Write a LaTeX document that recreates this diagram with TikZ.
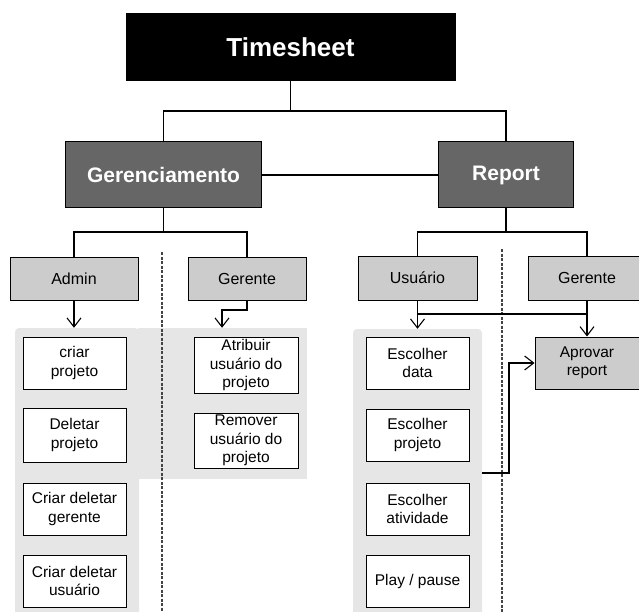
\documentclass[tikz,border=0pt]{standalone}
\usepackage{fontspec}
\setmainfont{Liberation Sans}
\usetikzlibrary{arrows.meta}
\definecolor{headgray}{HTML}{666666}
\definecolor{rolegray}{HTML}{CCCCCC}
\definecolor{panelgray}{HTML}{E6E6E6}
\definecolor{dividergray}{HTML}{444444}
\tikzset{
  basebox/.style={draw=black, line width=1pt, inner sep=0pt, align=center},
  rootbox/.style={basebox, fill=black, text=white, font=\bfseries\fontsize{26}{30}\selectfont},
  headbox/.style={basebox, fill=headgray, text=white, font=\bfseries\fontsize{21}{25}\selectfont},
  rolebox/.style={basebox, fill=rolegray, font=\fontsize{16}{18.5}\selectfont},
  taskbox/.style={basebox, fill=white, font=\fontsize{15.5}{18.5}\selectfont},
  panel/.style={fill=panelgray, draw=none, rounded corners=4pt, inner sep=0pt},
  link/.style={draw=black, line width=1.1pt},
  arrowlink/.style={link, -{Straight Barb[length=9pt,width=14pt,line width=1.1pt]}},
  divider/.style={draw=dividergray, line width=1.2pt, dash pattern=on 3pt off 1.5pt}
}
\begin{document}
\begin{tikzpicture}[x=1pt, y=-1pt]
\useasboundingbox (0,0) rectangle (639,612);
\clip (0,0) rectangle (639,612);

% grey backdrop panels behind the task lists
\node[panel, minimum width=124, minimum height=300] (pA) at (77,478) {};
\node[panel, minimum width=169, minimum height=151, rounded corners=0pt] (pB) at (222.5,403.5) {};
\node[panel, minimum width=129, minimum height=300] (pU) at (417.5,479) {};

% dashed dividers between the role columns
\coordinate (divL) at (162,252);
\coordinate (divR) at (502,249);
\draw[divider] (divL) -- (divL |- 0,620);
\draw[divider] (divR) -- (divR |- 0,620);

% top levels
\node[rootbox, minimum width=329, minimum height=67] (ts) at (290.5,47.5) {Timesheet};
\node[headbox, minimum width=196, minimum height=66] (ger) at (163.5,175) {Gerenciamento};
\node[headbox, minimum width=135, minimum height=66] (rep) at (506,175) {Report};

% roles
\node[rolebox, minimum width=128, minimum height=43] (adm) at (74,278.5) {Admin};
\node[rolebox, minimum width=118, minimum height=43] (gerL) at (247,278.5) {Gerente};
\node[rolebox, minimum width=119, minimum height=44] (usu) at (417.5,278) {Usuário};
\node[rolebox, minimum width=118, minimum height=44] (gerR) at (587,278) {Gerente};

% admin tasks
\node[taskbox, minimum width=103, minimum height=52] (a1) at (74.5,363) {criar\\projeto};
\node[taskbox, minimum width=103, minimum height=54] (a2) at (74.5,435) {Deletar\\projeto};
\node[taskbox, minimum width=103, minimum height=52] (a3) at (74.5,509) {Criar deletar\\gerente};
\node[taskbox, minimum width=103, minimum height=52] (a4) at (74.5,581) {Criar deletar\\usuário};

% manager tasks
\node[taskbox, minimum width=104, minimum height=56] (g1) at (246,365) {Atribuir\\usuário do\\projeto};
\node[taskbox, minimum width=104, minimum height=55] (g2) at (246,440.5) {Remover\\usuário do\\projeto};

% user tasks
\node[taskbox, minimum width=103, minimum height=52] (u1) at (417.5,363) {Escolher\\data};
\node[taskbox, minimum width=103, minimum height=52] (u2) at (417.5,435) {Escolher\\projeto};
\node[taskbox, minimum width=103, minimum height=52] (u3) at (417.5,509) {Escolher\\atividade};
\node[taskbox, minimum width=103, minimum height=52] (u4) at (417.5,581) {Play / pause};

% approval
\node[rolebox, font=\fontsize{15.5}{18.5}\selectfont, minimum width=104, minimum height=52] (apr) at (587,363) {Aprovar\\report};

% tree connectors
\coordinate (busT) at (0,111);
\coordinate (busB) at (0,232);
\coordinate (busU) at (0,314);
\draw[link] (ts.south) -- (ts.south |- busT);
\draw[link] (ger.north) -- (ger.north |- busT) -- (rep.north |- busT) -- (rep.north);
\draw[link] (ger.east) -- (rep.west);
\draw[link] (ger.south) -- (ger.south |- busB);
\draw[link] (adm.north) -- (adm.north |- busB) -- (gerL.north |- busB) -- (gerL.north);
\draw[link] (rep.south) -- (rep.south |- busB);
\draw[link] (usu.north) -- (usu.north |- busB) -- (gerR.north |- busB) -- (gerR.north);

% arrows into the task lists
\coordinate (gerJog) at (222,310);
\draw[arrowlink] (adm.south) -- (adm.south |- pA.north);
\draw[arrowlink] (gerL.south) -- (gerL.south |- gerJog) -- (gerJog) -- (gerJog |- pB.north);
\draw[arrowlink] (usu.south) -- (usu.south |- pU.north);
\draw[link] (usu.south |- busU) -- (apr.north |- busU);
\draw[arrowlink] (gerR.south) -- (apr.north);

% user tasks feed the approval
\coordinate (jog) at (509,473);
\draw[arrowlink] (pU.east |- jog) -- (jog) |- (apr.west);
\end{tikzpicture}
\end{document}
